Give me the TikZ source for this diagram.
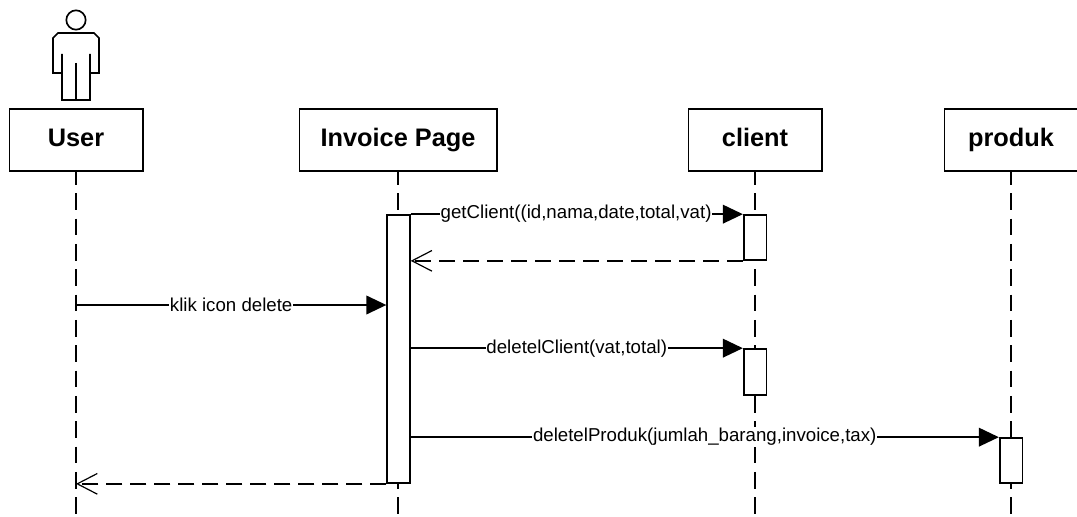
\documentclass[tikz,border=0pt]{standalone}
\usepackage{fontspec}
\setmainfont{Liberation Sans}
\usetikzlibrary{arrows.meta,calc}

\tikzset{
    lifebox/.style={draw, line width=1.25pt, minimum width=100pt, minimum height=46.5pt, inner sep=0pt, text height=13pt, text depth=3.5pt, font=\fontsize{19}{21}\selectfont\bfseries},
    lifeline/.style={line width=1.25pt, dash pattern=on 12.5pt off 6.5pt, dash phase=3pt},
    activation/.style={draw, fill=white, line width=1.25pt, minimum width=17pt, inner sep=0pt},
    msg/.style={line width=1.25pt, -{Triangle[length=15pt,width=14pt]}},
    reply/.style={line width=1.25pt, dash pattern=on 12pt off 6pt, -{Straight Barb[length=15pt,width=15.5pt,line width=0.9pt]}},
    msglabel/.style={fill=white, inner xsep=0.5pt, inner ysep=1pt, font=\fontsize{14}{16}\selectfont}
}

\begin{document}
\begin{tikzpicture}[x=0.75pt,y=-0.75pt]
    \useasboundingbox (0,0) rectangle (1077,517);

    % Actor
    \node[draw, circle, line width=1.25pt, minimum size=14.5pt, inner sep=0pt] (head) at (76,20) {};
    \draw[line width=1.25pt] (62,54) -- (62,73) -- (53,73) -- (53,38) -- (58,33) -- (94,33) -- (99,38) -- (99,73) -- (90,73) -- (90,54);
    \draw[line width=1.25pt] (62,73) -- (62,100) -- (90,100) -- (90,73);
    \draw[line width=1.25pt] (76,63) -- (76,100);

    % Lifeline heads
    \node[lifebox] (user) at (76,140) {User};
    \node[lifebox, minimum width=148pt] (page) at (398,140) {Invoice Page};
    \node[lifebox] (client) at (755,140) {client};
    \node[lifebox] (produk) at (1011,140) {produk};

    % Lifelines
    \foreach \head in {user,page,client,produk} {
        \coordinate (\head end) at (\head.south |- 0,517);
        \draw[lifeline] (\head.south) -- (\head end);
    }

    % Activations
    \node[activation, minimum height=201pt] (pagebar) at (398.5,349) {};
    \node[activation, minimum height=33.75pt] (clientbar) at (755,237.5) {};
    \node[activation, minimum height=34.5pt] (deletebar) at (755,372) {};
    \node[activation, minimum height=33.75pt] (produkbar) at (1011,460.5) {};

    % Messages
    \draw[msg] (pagebar.north east) -- (clientbar.north west) node[msglabel, pos=0.498] {getClient((id,nama,date,total,vat)};
    \draw[reply] (clientbar.south west) -- (clientbar.south west -| pagebar.east);

    \coordinate (klik) at (76,305);
    \draw[msg] (klik) -- (klik -| pagebar.west) node[msglabel, pos=0.5] {klik icon delete};

    \draw[msg] (pagebar.east |- deletebar.north) -- (deletebar.north west) node[msglabel, pos=0.5] {deletelClient(vat,total)};
    \draw[msg] (pagebar.east |- produkbar.north) -- (produkbar.north west) node[msglabel, pos=0.5] {deletelProduk(jumlah\_barang,invoice,tax)};

    \draw[reply] (pagebar.south west) -- (pagebar.south west -| user);
\end{tikzpicture}
\end{document}
